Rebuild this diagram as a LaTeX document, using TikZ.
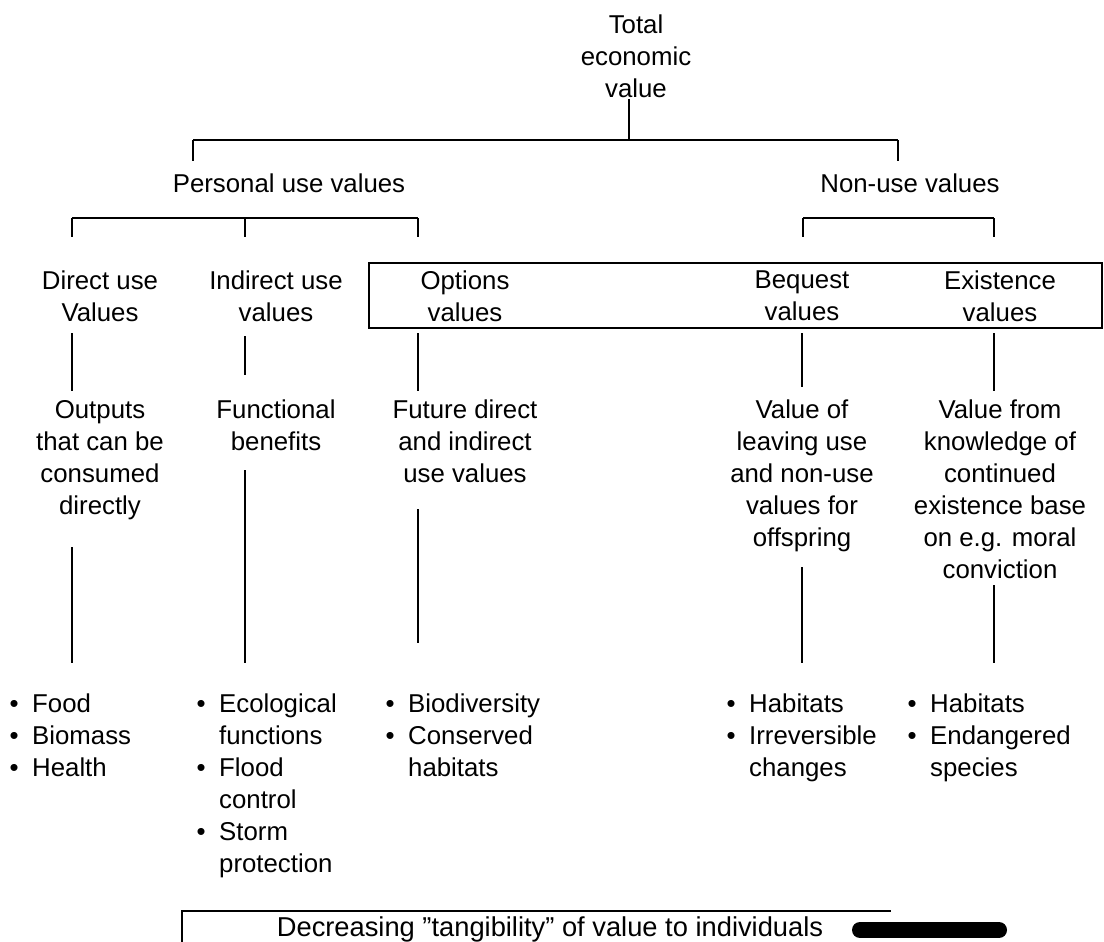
\documentclass[tikz,border=0pt]{standalone}
\usepackage{fontspec}
\setmainfont{Liberation Sans}
\newcommand\itembul{\llap{\textbullet\hspace{13.5pt}}}
\begin{document}
\begin{tikzpicture}[x=1pt,y=-1pt,
  lbl/.style={inner sep=0pt, align=center, anchor=north, font=\fontsize{25.8}{32}\selectfont},
  lst/.style={inner sep=0pt, align=left, anchor=north west, font=\fontsize{25.8}{32}\selectfont},
  thinln/.style={line width=1.3pt},
  barln/.style={line width=2pt},
  frameln/.style={line width=2.5pt}]
\useasboundingbox (0,0) rectangle (1104,942);

% --- labels ---
\node[lbl] (tev) at (636,15) {Total\\economic\\value};
\node[lbl] (puv) at (289,174) {Personal use values};
\node[lbl] (nuv) at (910,174) {Non-use values};

\node[lbl] (duv) at (100,271) {Direct use\\Values};
\node[lbl] (iuv) at (276,271) {Indirect use\\values};
\node[lbl] (opv) at (465,271) {Options\\values};
\node[lbl] (bqv) at (802,271) {Bequest\\values};
\node[lbl] (exv) at (1000,271) {Existence\\values};

\node[lbl] (dud) at (100,400) {Outputs\\that can be\\consumed\\directly};
\node[lbl] (iud) at (276,400) {Functional\\benefits};
\node[lbl] (opd) at (465,400) {Future direct\\and indirect\\use values};
\node[lbl] (bqd) at (802,400) {Value of\\leaving use\\and non-use\\values for\\offspring};
\node[lbl] (exd) at (1000,400) {Value from\\knowledge of\\continued\\existence base\\on e.g. moral\\conviction};

\node[lst] (dul) at (32,694) {\itembul Food\\\itembul Biomass\\\itembul Health};
\node[lst] (iul) at (219,694) {\itembul Ecological\\functions\\\itembul Flood\\control\\\itembul Storm\\protection};
\node[lst] (opl) at (408,694) {\itembul Biodiversity\\\itembul Conserved\\habitats};
\node[lst] (bql) at (749,694) {\itembul Habitats\\\itembul Irreversible\\changes};
\node[lst] (exl) at (930,694) {\itembul Habitats\\\itembul Endangered\\species};

\node[inner sep=0pt, anchor=base, font=\fontsize{27.3}{32}\selectfont] (tng) at (550,936)
  {Decreasing ”tangibility” of value to individuals};

% --- junction points of the tree ---
\coordinate (stemT) at (629,99);
\coordinate (stemB) at (629,140);
\coordinate (barL) at (193,140);
\coordinate (barR) at (898,140);
\coordinate (barLd) at (193,161);
\coordinate (barRd) at (898,161);

\coordinate (pL) at (72,218);  \coordinate (pLd) at (72,237);
\coordinate (pM) at (245,218); \coordinate (pMd) at (245,237);
\coordinate (pR) at (418,218); \coordinate (pRd) at (418,237);
\coordinate (nL) at (803,218); \coordinate (nLd) at (803,237);
\coordinate (nR) at (994,218); \coordinate (nRd) at (994,237);

% top level
\draw[thinln] (stemT) -- (stemB);
\draw[barln] (barL) -- (barR);
\draw[thinln] (barL) -- (barLd);
\draw[thinln] (barR) -- (barRd);

% second level brackets
\draw[barln] (pL) -- (pR);
\draw[thinln] (pL) -- (pLd);
\draw[thinln] (pM) -- (pMd);
\draw[thinln] (pR) -- (pRd);
\draw[barln] (nL) -- (nR);
\draw[thinln] (nL) -- (nLd);
\draw[thinln] (nR) -- (nRd);

% frame round the forward-looking values
\draw[frameln] (369,263) rectangle (1102,328);

% value types to descriptions
\draw[thinln] (72,333) -- (72,391);
\draw[thinln] (245,336) -- (245,375);
\draw[thinln] (418,333) -- (418,391);
\draw[thinln] (802,333) -- (802,387);
\draw[thinln] (994,333) -- (994,391);

% descriptions to examples
\draw[thinln] (72,547) -- (72,663);
\draw[thinln] (245,470) -- (245,663);
\draw[thinln] (418,509) -- (418,643);
\draw[thinln] (802,567) -- (802,663);
\draw[thinln] (994,585) -- (994,663);

% tangibility scale
\draw[frameln] (182,945) -- (182,911) -- (891,911);
\draw[line width=16pt, line cap=round] (860,930) -- (999,930);
\end{tikzpicture}
\end{document}
